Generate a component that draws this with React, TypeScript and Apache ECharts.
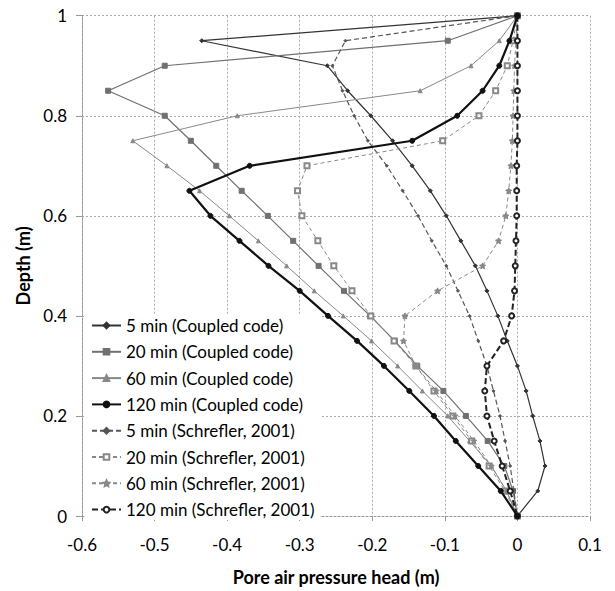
import React, { useEffect, useRef } from "react";
import * as echarts from "echarts";

const depths = [1, 0.95, 0.9, 0.85, 0.8, 0.75, 0.7, 0.65, 0.6, 0.55, 0.5, 0.45, 0.4, 0.35, 0.3, 0.25, 0.2, 0.15, 0.1, 0.05, 0];

const coupled5 = [0, -0.435, -0.262, -0.234, -0.202, -0.172, -0.145, -0.12, -0.098, -0.078, -0.058, -0.042, -0.027, -0.014, 0.0, 0.012, 0.021, 0.031, 0.038, 0.028, 0];
const coupled20 = [0, -0.096, -0.486, -0.564, -0.486, -0.45, -0.415, -0.38, -0.344, -0.309, -0.274, -0.239, -0.203, -0.169, -0.138, -0.102, -0.071, -0.041, -0.018, -0.006, 0];
const coupled60 = [0, -0.025, -0.064, -0.134, -0.386, -0.53, -0.483, -0.438, -0.397, -0.357, -0.318, -0.28, -0.24, -0.201, -0.165, -0.131, -0.096, -0.066, -0.036, -0.015, 0];
const coupled120 = [0, -0.011, -0.025, -0.048, -0.083, -0.145, -0.369, -0.452, -0.423, -0.383, -0.343, -0.3, -0.261, -0.221, -0.184, -0.149, -0.115, -0.085, -0.054, -0.023, 0];
const schref5 = [0, -0.237, -0.255, -0.241, -0.225, -0.206, -0.18, -0.158, -0.137, -0.118, -0.098, -0.082, -0.066, -0.054, -0.042, -0.033, -0.024, -0.017, -0.01, -0.005, 0];
const schref20 = [0, -0.006, -0.014, -0.03, -0.053, -0.103, -0.29, -0.303, -0.297, -0.275, -0.253, -0.228, -0.202, -0.17, -0.14, -0.115, -0.089, -0.063, -0.039, -0.017, 0];
const schref60 = [0, -0.002, -0.004, -0.005, -0.006, -0.007, -0.009, -0.012, -0.016, -0.026, -0.048, -0.11, -0.155, -0.157, -0.14, -0.112, -0.086, -0.06, -0.036, -0.015, 0];
const schref120 = [0, 0, 0, 0, 0, 0, -0.001, -0.001, -0.001, -0.002, -0.003, -0.004, -0.008, -0.019, -0.042, -0.045, -0.042, -0.032, -0.021, -0.01, 0];

const seriesNames = [
  "5 min (Coupled code)",
  "20 min (Coupled code)",
  "60 min (Coupled code)",
  "120 min (Coupled code)",
  "5 min (Schrefler, 2001)",
  "20 min (Schrefler, 2001)",
  "60 min (Schrefler, 2001)",
  "120 min (Schrefler, 2001)",
];

const xTitle = "Pore air pressure head (m)";
const yTitle = "Depth (m)";

const F = "Lato, 'Open Sans', sans-serif";
const STAR =
  "path://M0,-10L2.9,-4L9.5,-3.1L4.8,1.5L5.9,8.1L0,5L-5.9,8.1L-4.8,1.5L-9.5,-3.1L-2.9,-4Z";

function mk(
  name: string,
  xs: number[],
  color: string,
  width: number,
  dash: any,
  symbol: string,
  symbolSize: number,
  z: number
) {
  return {
    name,
    type: "line",
    data: depths.map((d, i) => [xs[i], d]),
    lineStyle: { color, width, type: dash },
    itemStyle: { color, borderColor: color, borderWidth: 1 },
    symbol,
    symbolSize,
    showSymbol: true,
    z,
    silent: true,
  };
}

const fmt = (v: number) => {
  const r = Math.round(v * 10) / 10;
  return r === 0 ? "0" : String(r);
};

export default function App() {
  const ref = useRef<HTMLDivElement>(null);
  useEffect(() => {
    if (!ref.current) return;
    const chart = echarts.init(ref.current, null, { renderer: "svg" });
    const series = [
      mk(seriesNames[0], coupled5, "#333333", 1.2, "solid", "diamond", 4, 3),
      mk(seriesNames[1], coupled20, "#707070", 1.2, "solid", "rect", 5, 3),
      mk(seriesNames[2], coupled60, "#888888", 1, "solid", "triangle", 4, 3),
      mk(seriesNames[3], coupled120, "#111111", 2.2, "solid", "circle", 5, 5),
      mk(seriesNames[4], schref5, "#555555", 1.2, [5, 3], "diamond", 3, 4),
      mk(seriesNames[5], schref20, "#888888", 1, [4, 3], "emptyRect", 5, 4),
      mk(seriesNames[6], schref60, "#888888", 1, [4, 3], STAR, 6, 4),
      mk(seriesNames[7], schref120, "#222222", 2, [6, 3], "emptyCircle", 5, 4),
    ];
    chart.setOption({
      animation: false,
      backgroundColor: "#ffffff",
      grid: { left: 82, right: 25, top: 15.7, bottom: 74, containLabel: false },
      legend: {
        data: seriesNames,
        orient: "vertical",
        left: 85,
        top: 315,
        backgroundColor: "#ffffff",
        padding: [2, 6, 2, 6],
        itemWidth: 29,
        itemHeight: 7,
        itemGap: 9.3,
        textStyle: { fontFamily: F, fontSize: 17, color: "#000", lineHeight: 16 },
      },
      xAxis: {
        type: "value",
        min: -0.6,
        max: 0.1,
        interval: 0.1,
        name: xTitle,
        nameLocation: "middle",
        nameGap: 52,
        nameTextStyle: { fontFamily: F, fontSize: 18, fontWeight: "bold", color: "#000" },
        axisLine: { show: true, onZero: false, lineStyle: { color: "#999", type: [2, 2] } },
        axisTick: { show: true, length: 5, lineStyle: { color: "#999" } },
        axisLabel: { fontFamily: F, fontSize: 17, color: "#000", margin: 20, formatter: fmt },
        splitLine: { show: true, lineStyle: { color: "#aaa", type: [2, 2], width: 1 } },
      },
      yAxis: {
        type: "value",
        min: 0,
        max: 1,
        interval: 0.2,
        name: yTitle,
        nameLocation: "middle",
        nameGap: 39,
        nameTextStyle: { fontFamily: F, fontSize: 18, fontWeight: "bold", color: "#000" },
        axisLine: { show: true, onZero: false, lineStyle: { color: "#999", type: [2, 2] } },
        axisTick: { show: true, length: 6, lineStyle: { color: "#999" } },
        axisLabel: { fontFamily: F, fontSize: 17, color: "#000", margin: 15, formatter: fmt },
        splitLine: { show: true, lineStyle: { color: "#aaa", type: [2, 2], width: 1 } },
      },
      series,
    });
    return () => chart.dispose();
  }, []);
  return (
    <div
      ref={ref}
      style={{ position: "absolute", left: 0, top: 0, width: 615, height: 591, background: "#fff" }}
    />
  );
}
